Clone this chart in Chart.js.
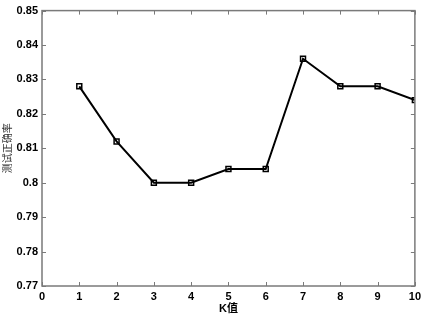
<!DOCTYPE html>
<html>
<head>
<meta charset="utf-8">
<script src="https://cdn.jsdelivr.net/npm/chart.js@4"></script>
<style>
html,body{margin:0;padding:0;background:#fff;}
#wrap{width:425px;height:316px;}
</style>
</head>
<body>
<div id="wrap"><canvas id="c" width="425" height="316"></canvas></div>
<script>
// data
const kValues = [1,2,3,4,5,6,7,8,9,10];
const accuracy = [0.828,0.812,0.800,0.800,0.804,0.804,0.836,0.828,0.828,0.824];
const xTicks = [0,1,2,3,4,5,6,7,8,9,10];
const yTicks = [0.77,0.78,0.79,0.80,0.81,0.82,0.83,0.84,0.85];

// frame + inward ticks on all four sides, like the matlab box
const boxTicks = {
  id:'boxTicks',
  afterDatasetsDraw(chart){
    const {ctx, chartArea:a, scales} = chart;
    const len = 4;
    ctx.save();
    ctx.strokeStyle = '#7a7a7a';
    ctx.lineWidth = 1;
    ctx.beginPath();
    xTicks.forEach(v=>{
      const x = Math.round(scales.x.getPixelForValue(v))+0.5;
      ctx.moveTo(x,a.bottom); ctx.lineTo(x,a.bottom-len);
      ctx.moveTo(x,a.top); ctx.lineTo(x,a.top+len);
    });
    yTicks.forEach(v=>{
      const y = Math.round(scales.y.getPixelForValue(v))+0.5;
      ctx.moveTo(a.left,y); ctx.lineTo(a.left+len,y);
      ctx.moveTo(a.right,y); ctx.lineTo(a.right-len,y);
    });
    ctx.stroke();
    ctx.lineWidth = 1.5;
    ctx.strokeRect(a.left, a.top, a.right-a.left, a.bottom-a.top);
    ctx.restore();
  }
};

new Chart(document.getElementById('c'), {
  type:'line',
  data:{
    labels:kValues,
    datasets:[{
      data:kValues.map((k,i)=>({x:k,y:accuracy[i]})),
      borderColor:'#000',
      borderWidth:2,
      pointStyle:'rect',
      pointRadius:3.5,
      pointBorderWidth:1.5,
      pointBorderColor:'#000',
      pointBackgroundColor:'rgba(255,255,255,0)',
      tension:0
    }]
  },
  options:{
    responsive:false,
    animation:false,
    layout:{padding:{top:10,right:7,left:1,bottom:0}},
    plugins:{legend:{display:false},tooltip:{enabled:false}},
    scales:{
      x:{
        type:'linear', min:0, max:10,
        afterBuildTicks:s=>{s.ticks = xTicks.map(v=>({value:v}));},
        grid:{display:false, drawTicks:false},
        border:{display:false},
        ticks:{color:'#000', padding:4, maxRotation:0, font:{family:'Liberation Sans, Arial', size:11, weight:'bold'}},
        title:{display:true, text:'K值', color:'#000', padding:{top:0,bottom:0}, font:{family:'Liberation Sans, Noto Sans CJK SC', size:11, weight:'bold'}},
        afterFit:s=>{s.height = 30;}
      },
      y:{
        min:0.77, max:0.85,
        afterBuildTicks:s=>{s.ticks = yTicks.map(v=>({value:v}));},
        grid:{display:false, drawTicks:false},
        border:{display:false},
        ticks:{color:'#000', padding:4, callback:v=>String(parseFloat(v.toFixed(2))), font:{family:'Liberation Sans, Arial', size:11, weight:'bold'}},
        title:{display:true, text:'测试正确率', color:'#333', padding:{top:0,bottom:2}, font:{family:'Noto Sans CJK SC', size:10}},
        afterFit:s=>{s.width = 41;}
      }
    }
  },
  plugins:[boxTicks]
});
</script>
</body>
</html>
